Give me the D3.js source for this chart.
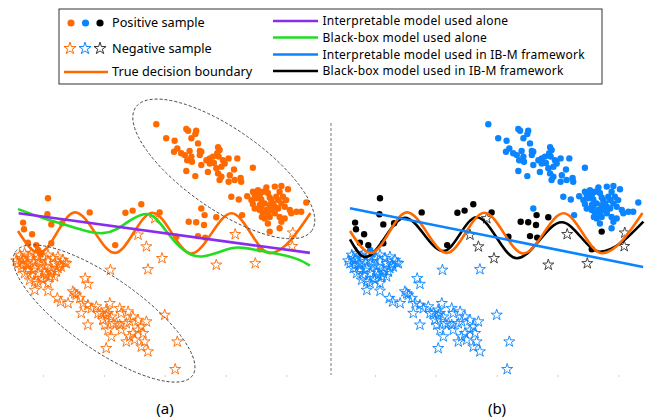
<!DOCTYPE html>
<meta charset="utf-8">
<html>
<head>
<script src="https://d3js.org/d3.v7.min.js"></script>
<style>
  body { margin: 0; background: #fff; }
  text { font-family: "Noto Sans", sans-serif; }
</style>
</head>
<body>
<div id="chart"></div>
<script>
// positive samples, far from the boundary (blue in panel b)
var posCluster = [
  [46.1,83.6],[56.1,82.0],[56.7,81.4],[59.4,81.4],[59.1,80.3],[57.8,78.9],[49.4,78.9],[52.2,78.1],
  [53.1,75.5],[52.0,74.4],[54.4,73.9],[55.6,73.3],[57.2,74.7],[57.8,72.8],[60.0,77.2],[60.6,74.7],
  [60.6,73.3],[61.1,74.4],[56.4,71.6],[58.0,71.1],[56.1,68.0],[59.1,66.3],[61.1,70.0],[62.8,71.6],
  [63.9,72.2],[65.0,72.8],[66.7,75.9],[67.2,75.0],[66.4,73.9],[66.9,72.8],[68.3,71.6],[68.9,70.5],
  [67.8,69.4],[66.1,68.9],[63.3,67.7],[66.7,67.2],[67.2,65.0],[67.8,66.1],[70.2,72.2],[73.1,72.2],
  [72.0,68.5],[70.6,66.6],[70.2,64.4],[72.2,65.0],[74.2,65.7],[74.4,64.4],[78.3,69.1],[65.3,70.7],
  [63.9,70.5],
  [71.1,59.4],[73.6,58.5],[76.4,59.6],[78.3,61.1],[78.9,60.0],[79.4,58.9],[77.8,58.3],[80.6,60.0],
  [81.1,58.5],[82.8,62.5],[83.3,60.7],[85.6,62.8],[87.8,63.0],[90.0,61.9],[87.2,61.1],[86.1,59.4],
  [84.4,58.3],[82.2,57.2],[83.9,56.6],[85.6,56.1],[87.8,57.2],[89.4,58.3],[88.9,56.1],[90.6,55.0],
  [91.1,53.9],[92.8,54.4],[94.4,54.4],[96.1,57.5],[78.9,55.5],[80.6,55.0],[81.7,53.9],[83.9,52.7],
  [85.6,53.9],[87.2,52.7],[88.9,52.2],[87.8,51.1],[82.2,52.2],[81.3,52.7],[83.3,50.5],[86.7,55.5],
  [84.4,55.0],[82.8,55.0],[80.6,56.7],[78.3,57.0],[80.0,61.6],[81.7,61.1],[83.9,59.2],[85.0,57.2],
  [86.7,58.3],[88.3,59.4],[83.3,53.9],[81.1,56.1],
  [61.1,55.5],[74.7,53.3],[87.2,48.9],[6.7,41.7],[7.8,40.6]
];

// positive samples close to the boundary (black in panel b)
var posBoundary = [
  [10.0,58.9],[9.8,53.6],[1.7,50.8],[2.0,48.6],[11.1,50.2],[4.7,46.9],[14.7,50.6],[3.3,44.1],
  [6.1,43.3],[11.1,43.9],[23.9,54.2],[32.4,43.3],[35.8,54.1],[38.2,54.8],[41.1,56.9],[47.2,54.2],
  [56.9,51.1],[59.4,50.9],[62.2,53.3],[62.0,50.0],[66.1,52.6],[60.0,46.3],[62.4,45.8],[52.8,46.1],
  [83.9,47.8],[80.6,41.9]
];

// negative samples, far from the boundary (blue in panel b)
var negCluster = [
  [0.6,40.0],[2.2,40.6],[3.9,39.4],[1.7,38.3],[0.0,37.2],[2.8,37.2],[5.0,37.8],[6.7,38.9],
  [8.3,39.4],[10.0,40.0],[11.7,38.9],[13.3,39.4],[15.0,38.3],[16.1,37.2],[13.9,36.7],[12.2,37.2],
  [10.0,37.8],[7.8,36.7],[5.6,35.6],[3.3,35.0],[1.1,35.6],[2.2,33.9],[4.4,33.3],[6.7,33.9],
  [8.9,34.4],[11.1,35.0],[12.8,34.4],[10.6,32.8],[7.8,32.2],[5.6,31.1],[6.7,30.6],[10.0,30.6],
  [12.2,32.8],[3.9,31.7],[8.9,36.1],[7.2,37.8],[11.1,33.9],[13.3,35.6],[1.1,38.9],[4.4,40.6],
  [6.1,40.0],[3.3,36.7],[9.4,33.3],[5.0,35.0],[8.3,31.7],[14.4,36.1],[1.7,36.7],[-0.6,38.1],
  [5.6,28.3],[10.0,28.0],[18.9,27.2],[13.1,25.6],
  [30.8,35.0],[43.3,35.2],[15.6,37.4],[22.4,32.2],[23.3,30.3],
  [18.3,27.8],[19.4,26.7],[14.2,24.4],[16.7,23.9],[20.6,25.6],[21.7,23.9],[23.3,23.3],[21.1,20.6],
  [24.4,22.2],[26.1,22.8],[27.8,20.6],[29.4,21.7],[30.0,20.6],[30.6,23.9],[29.4,20.0],[31.1,19.4],
  [33.9,22.2],[34.4,20.6],[36.7,21.1],[38.3,19.4],[40.0,18.3],[42.8,17.8],[37.2,17.8],[32.8,17.2],
  [33.9,16.7],[31.7,17.2],[28.9,16.7],[30.0,15.0],[31.1,12.8],[34.4,15.0],[36.1,17.2],[38.3,13.9],
  [40.0,15.0],[41.7,13.9],[42.2,11.1],[41.1,9.4],[43.3,7.8],[36.1,11.1],[37.2,12.8],[38.9,11.7],
  [23.3,16.7],[29.4,8.9],[48.9,20.0],[53.1,11.1],[52.4,1.9],[26.7,20.6],[28.3,18.3],[41.1,16.1]
];

// negative samples close to the boundary (black in panel b)
var negBoundary = [
  [40.0,46.7],[42.8,42.8],[48.0,38.9],[45.6,52.2],[72.4,46.9],[66.1,36.7],[79.1,37.2],
  [91.6,47.4],[91.4,42.9]
];

// decision boundaries
var trueBoundary = [[0,48],[7,40.7],[19,54.2],[32.3,40.7],[44.8,54.1],[57.8,40.5],[71.2,53.9],[84,40.6],[97.5,54]];
var blackBoxAlone = [[0,55.3],[8.4,52.2],[16.2,50],[22.9,47.8],[28.4,46.9],[32.9,48.3],[37.3,51.7],[42.3,54.1],
  [45.1,53.3],[48.4,49.4],[52.9,43.3],[57.8,39.6],[61.8,39.3],[66.2,40.6],[71.3,42.6],[75.1,42.5],
  [79.5,41.6],[85.6,40.6],[90.2,39.6],[94,38.4],[97.3,36.5]];
var interpAlone = [[0.2,53.9],[97.3,40.7]];
var interpIBM = [[0,55.6],[97.7,36]];
var blackBoxIBM = [[0,45.2],[5,39.3],[18.3,52.4],[31.1,41.3],[42.2,52.6],[55.6,38.9],[70.6,50.9],[83.3,41.1],[97.8,51.1]];

var tickValues = [8.3, 28.6, 48.9, 69.2, 89.5];

var ORANGE = "#ff6a00", BLUE = "#0a84ff", PURPLE = "#8a2cf0", GREEN = "#22dd22";

var W = 652, H = 420;
var svg = d3.select("#chart").append("svg")
  .attr("width", W).attr("height", H);

var y = d3.scaleLinear().domain([0, 100]).range([375, 75]);
var xa = d3.scaleLinear().domain([0, 100]).range([18, 318]);
var xb = d3.scaleLinear().domain([0, 100]).range([350, 650]);

var star = d3.symbol().type(d3.symbolStar).size(38);

function drawPanel(x, colorPos, colorPosB, colorNeg, colorNegB) {
  var g = svg.append("g");
  // faint ticks
  g.append("g")
    .attr("transform", "translate(0," + y(0) + ")")
    .call(d3.axisBottom(x).tickValues(tickValues).tickSize(2).tickFormat(""))
    .call(function(a) { a.select(".domain").remove(); a.selectAll("line").attr("stroke", "#ccc"); });

  g.selectAll("path.neg")
    .data(negCluster.map(function(d) { return {p: d, c: colorNeg}; })
      .concat(negBoundary.map(function(d) { return {p: d, c: colorNegB}; })))
    .enter().append("path")
    .attr("class", "neg")
    .attr("d", star)
    .attr("transform", function(d) { return "translate(" + x(d.p[0]) + "," + y(d.p[1]) + ")"; })
    .attr("fill", "none")
    .attr("stroke", function(d) { return d.c; })
    .attr("stroke-width", 0.9);

  g.selectAll("circle.pos")
    .data(posCluster.map(function(d) { return {p: d, c: colorPos}; })
      .concat(posBoundary.map(function(d) { return {p: d, c: colorPosB}; })))
    .enter().append("circle")
    .attr("class", "pos")
    .attr("cx", function(d) { return x(d.p[0]); })
    .attr("cy", function(d) { return y(d.p[1]); })
    .attr("r", 3.2)
    .attr("fill", function(d) { return d.c; });
  return g;
}

function addLine(g, x, data, color, curve) {
  var line = d3.line()
    .x(function(d) { return x(d[0]); })
    .y(function(d) { return y(d[1]); })
    .curve(curve || d3.curveLinear);
  g.append("path")
    .datum(data)
    .attr("d", line)
    .attr("fill", "none")
    .attr("stroke", color)
    .attr("stroke-width", 2.6);
}

// panel (a)
var ga = drawPanel(xa, ORANGE, ORANGE, ORANGE, ORANGE);
addLine(ga, xa, trueBoundary, ORANGE, d3.curveMonotoneX);
addLine(ga, xa, blackBoxAlone, GREEN, d3.curveBasis);
addLine(ga, xa, interpAlone, PURPLE);

// dashed ellipses around the far clusters
var ellipses = [
  {cx: 68.6, cy: 68.7, rx: 107.5, ry: 40, angle: 35},
  {cx: 28.7, cy: 20.5, rx: 108, ry: 36, angle: 35}
];
ga.selectAll("ellipse")
  .data(ellipses)
  .enter().append("ellipse")
  .attr("transform", function(d) { return "translate(" + xa(d.cx) + "," + y(d.cy) + ") rotate(" + d.angle + ")"; })
  .attr("rx", function(d) { return d.rx; })
  .attr("ry", function(d) { return d.ry; })
  .attr("fill", "none")
  .attr("stroke", "#444")
  .attr("stroke-width", 0.9)
  .attr("stroke-dasharray", "3,2");

// panel (b)
var gb = drawPanel(xb, BLUE, "#000", BLUE, "#333");
addLine(gb, xb, blackBoxIBM, "#000", d3.curveMonotoneX);
addLine(gb, xb, trueBoundary, ORANGE, d3.curveMonotoneX);
addLine(gb, xb, interpIBM, BLUE);

// divider
svg.append("line")
  .attr("x1", 331).attr("x2", 331)
  .attr("y1", 123).attr("y2", y(0))
  .attr("stroke", "#777").attr("stroke-width", 1)
  .attr("stroke-dasharray", "3,2");

// panel labels
svg.append("text").attr("x", xa(49)).attr("y", y(0) + 39)
  .attr("text-anchor", "middle").attr("font-size", 15).text("(a)");
svg.append("text").attr("x", xb(49)).attr("y", y(0) + 39)
  .attr("text-anchor", "middle").attr("font-size", 15).text("(b)");

// legend
var lg = svg.append("g");
lg.append("rect").attr("x", 59).attr("y", 9).attr("width", 543).attr("height", 75)
  .attr("fill", "#fff").attr("stroke", "#333").attr("stroke-width", 1);

[ORANGE, BLUE, "#000"].forEach(function(c, i) {
  lg.append("circle").attr("cx", 71 + i * 14.5).attr("cy", 23).attr("r", 3.6).attr("fill", c);
  lg.append("path").attr("d", d3.symbol().type(d3.symbolStar).size(45))
    .attr("transform", "translate(" + (70 + i * 15) + ",48.5)")
    .attr("fill", "none").attr("stroke", c === "#000" ? "#333" : c).attr("stroke-width", 1);
});
lg.append("line").attr("x1", 64).attr("x2", 108).attr("y1", 72).attr("y2", 72)
  .attr("stroke", ORANGE).attr("stroke-width", 2.6);

var leftLabels = [["Positive sample", 23], ["Negative sample", 48.5], ["True decision boundary", 72]];
leftLabels.forEach(function(d) {
  lg.append("text").attr("x", 112).attr("y", d[1]).attr("dy", "0.35em")
    .attr("font-size", 12.7).text(d[0]);
});

var rightItems = [
  ["Interpretable model used alone", PURPLE, 21],
  ["Black-box model used alone", GREEN, 37.5],
  ["Interpretable model used in IB-M framework", BLUE, 54.5],
  ["Black-box model used in IB-M framework", "#000", 71]
];
rightItems.forEach(function(d) {
  lg.append("line").attr("x1", 273).attr("x2", 318).attr("y1", d[2]).attr("y2", d[2])
    .attr("stroke", d[1]).attr("stroke-width", 2.6);
  lg.append("text").attr("x", 322.5).attr("y", d[2]).attr("dy", "0.35em")
    .attr("font-size", 12).attr("letter-spacing", 0.25).text(d[0]);
});
</script>
</body>
</html>
